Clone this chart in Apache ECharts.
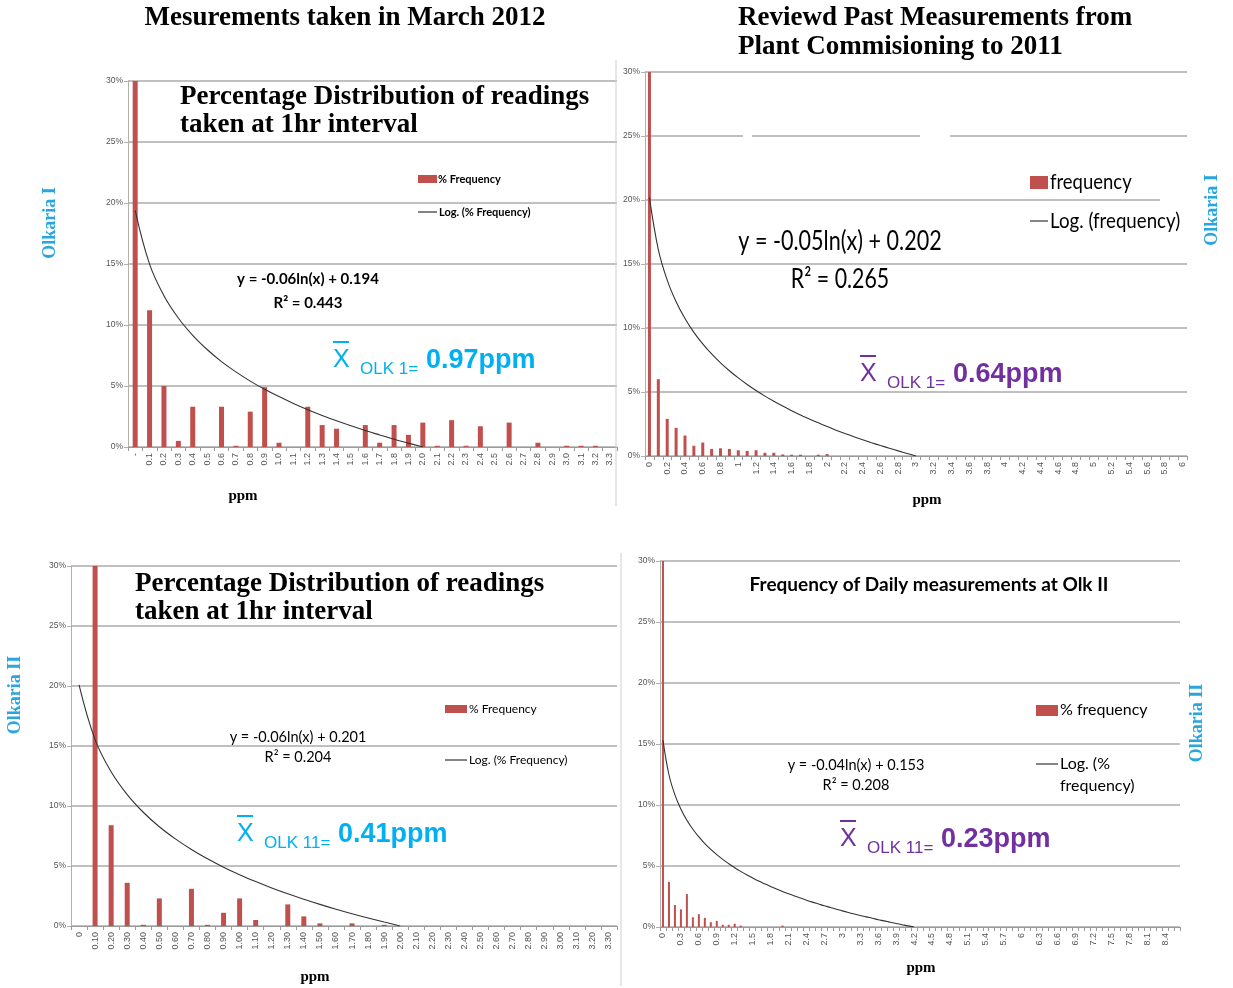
<!DOCTYPE html>
<html>
<head>
<meta charset="utf-8">
<title>Olkaria H2S frequency distributions</title>
<script src="https://cdn.jsdelivr.net/npm/echarts@6/dist/echarts.min.js"></script>
<style>
  html, body { margin: 0; padding: 0; background: #fff; }
  #chart { width: 1233px; height: 988px; }
</style>
</head>
<body>
<div id="chart"></div>
<script>
// ---- Olkaria I, March 2012 (hourly readings) ----
const cats1 = ['-','0.1','0.2','0.3','0.4','0.5','0.6','0.7','0.8','0.9','1.0','1.1','1.2','1.3','1.4','1.5','1.6','1.7','1.8','1.9','2.0','2.1','2.2','2.3','2.4','2.5','2.6','2.7','2.8','2.9','3.0','3.1','3.2','3.3'];
const freq1 = [30, 11.2, 5.0, 0.5, 3.3, 0, 3.3, 0.1, 2.9, 4.9, 0.35, 0, 3.3, 1.8, 1.5, 0, 1.8, 0.35, 1.8, 1.0, 2.0, 0.1, 2.2, 0.1, 1.7, 0, 2.0, 0, 0.35, 0, 0.1, 0.1, 0.1, 0];
const trend1 = [19.40, 14.99, 12.40, 10.57, 9.15, 7.99, 7.00, 6.16, 5.40, 4.73, 4.13, 3.57, 3.06, 2.59, 2.15, 1.74, 1.35, 0.99, 0.64, 0.32, 0];

// ---- Olkaria I, commissioning to 2011 ----
const cats2 = ['0','0.1','0.2','0.3','0.4','0.5','0.6','0.7','0.8','0.9','1','1.1','1.2','1.3','1.4','1.5','1.6','1.7','1.8','1.9','2','2.1','2.2','2.3','2.4','2.5','2.6','2.7','2.8','2.9','3','3.1','3.2','3.3','3.4','3.5','3.6','3.7','3.8','3.9','4','4.1','4.2','4.3','4.4','4.5','4.6','4.7','4.8','4.9','5','5.1','5.2','5.3','5.4','5.5','5.6','5.7','5.8','5.9','6'];
const freq2 = [30, 6.0, 2.9, 2.2, 1.6, 0.8, 1.05, 0.55, 0.6, 0.55, 0.45, 0.4, 0.45, 0.25, 0.25, 0.12, 0.1, 0.1, 0, 0.1, 0.15];
const trend2 = [20.20, 16.13, 13.74, 12.05, 10.74, 9.66, 8.76, 7.97, 7.28, 6.66, 6.10, 5.59, 5.12, 4.68, 4.28, 3.90, 3.54, 3.20, 2.89, 2.59, 2.30, 2.02, 1.76, 1.51, 1.27, 1.04, 0.82, 0.61, 0.40, 0.20, 0];

// ---- Olkaria II, March 2012 (hourly readings) ----
const cats3 = ['0','0.10','0.20','0.30','0.40','0.50','0.60','0.70','0.80','0.90','1.00','1.10','1.20','1.30','1.40','1.50','1.60','1.70','1.80','1.90','2.00','2.10','2.20','2.30','2.40','2.50','2.60','2.70','2.80','2.90','3.00','3.10','3.20','3.30'];
const freq3 = [0, 30, 8.4, 3.6, 0.1, 2.3, 0, 3.1, 0.1, 1.1, 2.3, 0.5, 0, 1.8, 0.8, 0.22, 0, 0.22, 0, 0.1];
const trend3 = [20.10, 15.53, 12.85, 10.95, 9.48, 8.27, 7.26, 6.38, 5.60, 4.90, 4.27, 3.70, 3.17, 2.68, 2.23, 1.80, 1.40, 1.02, 0.67, 0.33, 0];

// ---- Olkaria II, daily measurements ----
const cats4 = ['0','0.1','0.2','0.3','0.4','0.5','0.6','0.7','0.8','0.9','1','1.1','1.2','1.3','1.4','1.5','1.6','1.7','1.8','1.9','2','2.1','2.2','2.3','2.4','2.5','2.6','2.7','2.8','2.9','3','3.1','3.2','3.3','3.4','3.5','3.6','3.7','3.8','3.9','4','4.1','4.2','4.3','4.4','4.5','4.6','4.7','4.8','4.9','5','5.1','5.2','5.3','5.4','5.5','5.6','5.7','5.8','5.9','6','6.1','6.2','6.3','6.4','6.5','6.6','6.7','6.8','6.9','7','7.1','7.2','7.3','7.4','7.5','7.6','7.7','7.8','7.9','8','8.1','8.2','8.3','8.4','8.5','8.6'];
const freq4 = [30, 3.7, 1.8, 1.45, 2.7, 0.8, 1.05, 0.75, 0.4, 0.5, 0.18, 0.18, 0.27, 0.12, 0, 0, 0, 0, 0, 0, 0.12];
const trend4 = [15.30, 12.48, 10.83, 9.66, 8.75, 8.01, 7.38, 6.84, 6.36, 5.93, 5.54, 5.19, 4.86, 4.56, 4.28, 4.02, 3.77, 3.54, 3.32, 3.11, 2.91, 2.72, 2.54, 2.37, 2.20, 2.04, 1.89, 1.74, 1.60, 1.46, 1.32, 1.19, 1.07, 0.95, 0.83, 0.72, 0.60, 0.50, 0.39, 0.29, 0.19, 0.09, 0];

const yTicks = [0, 5, 10, 15, 20, 25, 30];

const RED = '#c0504d';
const CYAN = '#00b0f0';
const PURPLE = '#7030a0';
const SIDE = '#2aa6df';
const SERIF = '"Liberation Serif","Times New Roman",serif';
const SANS = '"Liberation Sans",Arial,sans-serif';
const CAL = 'Lato,"Liberation Sans",sans-serif';

const grids = [
  { left: 128, top: 81, width: 489, height: 366 },
  { left: 645, top: 72, width: 542, height: 384 },
  { left: 71, top: 566, width: 546, height: 360 },
  { left: 660, top: 561, width: 520, height: 366 }
];

function xAxisFor(i, cats, labelEvery) {
  return {
    type: 'category', gridIndex: i, data: cats,
    boundaryGap: true,
    axisLine: { lineStyle: { color: '#9a9a9a', width: 1 } },
    axisTick: { show: true, interval: 0, length: 4, lineStyle: { color: '#9a9a9a' } },
    axisLabel: { interval: labelEvery, rotate: 90, fontSize: 9, color: '#555', margin: 6, fontFamily: SANS }
  };
}
function yAxisFor(i) {
  return {
    type: 'value', gridIndex: i, min: yTicks[0], max: yTicks[yTicks.length - 1],
    interval: yTicks[1] - yTicks[0],
    axisLine: { show: true, lineStyle: { color: '#b0b0b0' } },
    axisTick: { show: true, length: 4, lineStyle: { color: '#b0b0b0' } },
    axisLabel: { formatter: '{value}%', fontSize: 8.5, color: '#555', margin: 5, fontFamily: SANS },
    splitLine: { lineStyle: { color: '#c0c0c0', width: 2 } }
  };
}
function barSeries(i, data, w, name) {
  return { type: 'bar', name: name, xAxisIndex: i, yAxisIndex: i, data: data, barWidth: w,
           itemStyle: { color: RED }, z: 2, clip: true };
}
function trendSeries(i, data, name) {
  return { type: 'line', name: name, xAxisIndex: i, yAxisIndex: i, data: data, smooth: 0.4,
           symbol: 'none', lineStyle: { color: '#333', width: 1.1 }, z: 3 };
}

// text helper for graphic elements; sx squeezes the text horizontally about its anchor
function T(x, y, text, font, fill, align, sx) {
  return {
    type: 'text', z: 10, x: x, y: y, scaleX: sx || 1,
    style: { x: 0, y: 0, text: text, font: font, fill: fill || '#000',
             textAlign: align || 'left', textVerticalAlign: 'middle' }
  };
}
function L(x1, y1, x2, y2, color, w) {
  return { type: 'line', z: 10, shape: { x1: x1, y1: y1, x2: x2, y2: y2 },
           style: { stroke: color, lineWidth: w } };
}
function R(x, y, w, h, color, z) {
  return { type: 'rect', z: z || 10, shape: { x: x, y: y, width: w, height: h }, style: { fill: color } };
}
function rotated(x, y, text, font, fill) {
  return { type: 'text', z: 10, x: x, y: y, rotation: Math.PI / 2,
           style: { x: 0, y: 0, text: text, font: font, fill: fill, textAlign: 'center', textVerticalAlign: 'middle' } };
}
function meanLabel(x, y, sub, val, color) {
  return [
    T(x, y, 'X', '25px ' + SANS, color),
    L(x, y - 18, x + 16, y - 18, color, 2),
    T(x + 27, y + 9, sub, '17px ' + SANS, color),
    T(x + 27 + (sub.length > 6 ? 74 : 66), y + 1, val, 'bold 27px ' + SANS, color)
  ];
}

const HEAD = 'bold 27px ' + SERIF;
const graphics = [].concat(
  [
    // column headings
    T(345, 18, 'Mesurements taken in March 2012', HEAD, '#000', 'center'),
    T(738, 18, 'Reviewd Past Measurements from', HEAD),
    T(738, 47, 'Plant Commisioning to 2011', HEAD),
    // chart titles
    T(180, 97, 'Percentage Distribution of readings', HEAD),
    T(180, 125, 'taken at 1hr interval', HEAD),
    T(135, 584, 'Percentage Distribution of readings', HEAD),
    T(135, 612, 'taken at 1hr interval', HEAD),
    T(929, 585, 'Frequency of Daily measurements at Olk II', 'bold 19px ' + CAL, '#000', 'center'),
    // plant labels
    rotated(50, 223, 'Olkaria I', 'bold 18px ' + SERIF, SIDE),
    rotated(1212, 210, 'Olkaria I', 'bold 18px ' + SERIF, SIDE),
    rotated(15, 695, 'Olkaria II', 'bold 18px ' + SERIF, SIDE),
    rotated(1197, 723, 'Olkaria II', 'bold 18px ' + SERIF, SIDE),
    // axis names
    T(243, 496, 'ppm', 'bold 15px ' + SERIF, '#000', 'center'),
    T(927, 500, 'ppm', 'bold 15px ' + SERIF, '#000', 'center'),
    T(315, 977, 'ppm', 'bold 15px ' + SERIF, '#000', 'center'),
    T(921, 968, 'ppm', 'bold 15px ' + SERIF, '#000', 'center'),
    // legends
    R(418, 175, 19, 8, RED), T(438, 179, '% Frequency', 'bold 11px ' + CAL),
    L(418, 212, 437, 212, '#333', 1.2), T(439, 212, 'Log. (% Frequency)', 'bold 11px ' + CAL),
    R(1030, 176, 18, 13, RED), T(1050, 182, 'frequency', '21px ' + CAL, '#000', 'left', 0.88),
    L(1030, 221, 1048, 221, '#333', 1.2), T(1050, 221, 'Log. (frequency)', '21px ' + CAL, '#000', 'left', 0.89),
    R(445, 705, 22, 8, RED), T(469, 709, '% Frequency', '12px ' + CAL),
    L(445, 760, 467, 760, '#333', 1.2), T(469, 760, 'Log. (% Frequency)', '12px ' + CAL),
    R(1036, 705, 22, 11, RED), T(1060, 710, '% frequency', '16px ' + CAL),
    L(1036, 764, 1058, 764, '#333', 1.2), T(1060, 764, 'Log. (%', '16px ' + CAL),
    T(1060, 786, 'frequency)', '16px ' + CAL),
    // trendline equations
    T(308, 279, 'y = -0.06ln(x) + 0.194', 'bold 15px ' + CAL, '#000', 'center'),
    T(308, 303, 'R² = 0.443', 'bold 15px ' + CAL, '#000', 'center'),
    T(840, 242, 'y = -0.05ln(x) + 0.202', '26px ' + CAL, '#000', 'center', 0.83),
    T(840, 280, 'R² = 0.265', '26px ' + CAL, '#000', 'center', 0.82),
    T(298, 737, 'y = -0.06ln(x) + 0.201', '14.5px ' + CAL, '#000', 'center'),
    T(298, 757, 'R² = 0.204', '14.5px ' + CAL, '#000', 'center'),
    T(856, 765, 'y = -0.04ln(x) + 0.153', '14.5px ' + CAL, '#000', 'center'),
    T(856, 785, 'R² = 0.208', '14.5px ' + CAL, '#000', 'center'),
    // panel borders
    L(616, 60, 616, 506, '#cfcfcf', 1),
    L(621, 553, 621, 986, '#cfcfcf', 1),
    // breaks in the gridlines behind text boxes
    R(743, 133, 9, 6, '#fff', 1), R(920, 133, 30, 6, '#fff', 1), R(1160, 197, 30, 6, '#fff', 1)
  ],
  meanLabel(333, 360, 'OLK 1=', '0.97ppm', CYAN),
  meanLabel(860, 374, 'OLK 1=', '0.64ppm', PURPLE),
  meanLabel(237, 834, 'OLK 11=', '0.41ppm', CYAN),
  meanLabel(840, 839, 'OLK 11=', '0.23ppm', PURPLE)
);

const chart = echarts.init(document.getElementById('chart'), null, { renderer: 'canvas' });
chart.setOption({
  animation: false,
  backgroundColor: '#fff',
  grid: grids,
  xAxis: [xAxisFor(0, cats1, 0), xAxisFor(1, cats2, 1), xAxisFor(2, cats3, 0), xAxisFor(3, cats4, 2)],
  yAxis: [yAxisFor(0), yAxisFor(1), yAxisFor(2), yAxisFor(3)],
  series: [
    barSeries(0, freq1, 5, '% Frequency'), trendSeries(0, trend1, 'Log. (% Frequency)'),
    barSeries(1, freq2, 3, 'frequency'), trendSeries(1, trend2, 'Log. (frequency)'),
    barSeries(2, freq3, 5, '% Frequency'), trendSeries(2, trend3, 'Log. (% Frequency)'),
    barSeries(3, freq4, 2, '% frequency'), trendSeries(3, trend4, 'Log. (% frequency)')
  ],
  graphic: { elements: graphics }
});
</script>
</body>
</html>
